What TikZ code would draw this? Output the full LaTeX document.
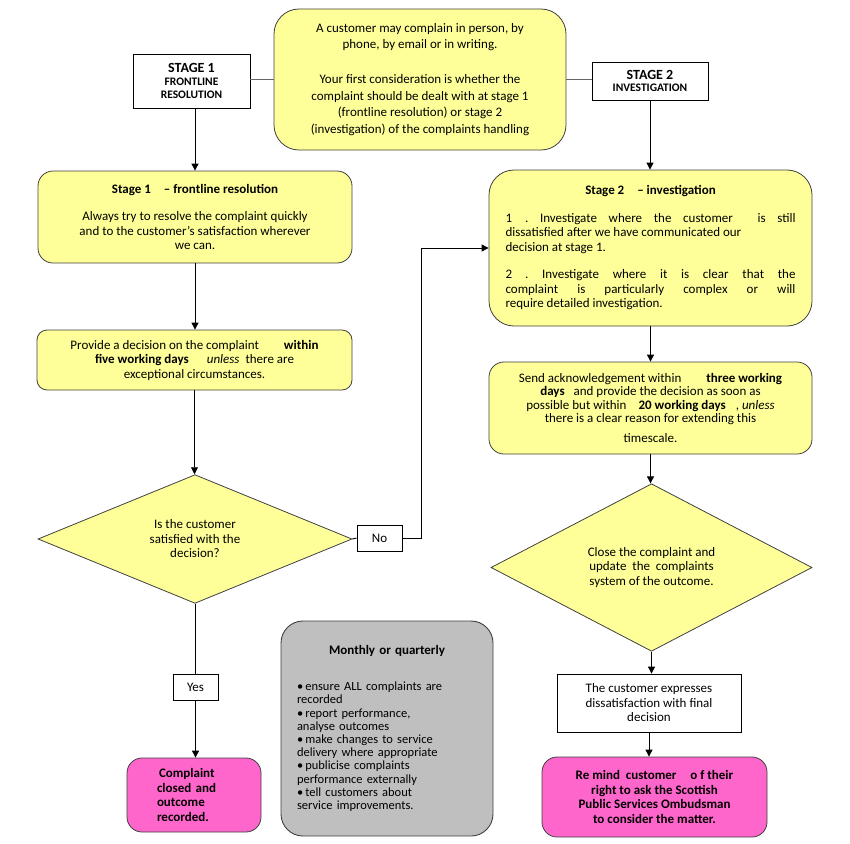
\documentclass[tikz,border=0pt]{standalone}
\usepackage{fontspec}
\setmainfont{Carlito}
\usepackage{tikz}
\usetikzlibrary{shapes.geometric,arrows.meta}

\definecolor{paleyellow}{HTML}{FFFF99}
\definecolor{hotpink}{HTML}{FF66CC}
\definecolor{boxgray}{HTML}{BFBFBF}
\definecolor{edgegray}{HTML}{404040}

\newcommand{\bodyfont}{\fontsize{13}{14.5}\selectfont}
\newcommand{\listfont}{\fontsize{12.5}{13.2}\selectfont}
\newcommand{\tagfont}{\fontsize{11.5}{12.7}\selectfont}

\tikzset{
    >={Triangle[length=7pt,width=7pt]},
    yellowbox/.style={draw=edgegray, fill=paleyellow, line width=0.8pt, align=center, font=\bodyfont, inner sep=0pt},
    pinkbox/.style={draw=edgegray, fill=hotpink, line width=0.8pt, font=\bodyfont\bfseries, inner sep=0pt, rounded corners=15pt},
    tagbox/.style={draw, fill=white, line width=0.8pt, align=center, inner sep=0pt, font=\bodyfont},
    question/.style={diamond, draw=edgegray, fill=paleyellow, line width=0.8pt, align=center, font=\bodyfont, inner sep=0pt}
}

\begin{document}
\begin{tikzpicture}[x=1pt,y=-1pt,line width=0.9pt]
            \useasboundingbox (0,0) rectangle (850,843);

            % Top row
            \node[yellowbox, rounded corners=25pt, minimum width=292pt, minimum height=141pt, font={\fontsize{13}{16.7}\selectfont}] (intro) at (420,79.5)
                {A customer may complain in person, by\\ phone, by email or in writing.\\[18pt]
                 Your first consideration is whether the\\ complaint should be dealt with at stage 1\\
                 (frontline resolution) or stage 2\\ (investigation) of the complaints handling};
            \node[tagbox, minimum width=117pt, minimum height=54pt, font={\bfseries\tagfont}] (stageone) at (191.5,81)
                {{\fontsize{14}{14}\selectfont STAGE 1}\\ FRONTLINE\\ RESOLUTION};
            \node[tagbox, minimum width=116pt, minimum height=38pt, font={\bfseries\tagfont}] (stagetwo) at (650,81)
                {{\fontsize{14}{14}\selectfont STAGE 2}\\ INVESTIGATION};

            % Stage 1 side
            \node[yellowbox, rounded corners=15pt, minimum width=314pt, minimum height=92pt] (stageonebox) at (195,217)
                {\textbf{Stage 1\quad -- frontline resolution}\\[13pt]
                 Always try to resolve the complaint quickly\\ and to the customer's satisfaction wherever\\ we can.};
            \node[yellowbox, rounded corners=10pt, minimum width=315pt, minimum height=60pt] (decide) at (194.5,360)
                {Provide a decision on the complaint\hspace{25pt}\textbf{within}\\
                 \textbf{five working days}\hspace{18pt}\textit{unless}\hspace{6pt}there are\\ exceptional circumstances.};
            \node[question, minimum width=314pt, minimum height=98pt] (satisfied) at (195,539)
                {Is the customer\\ satisfied with the\\ decision?};
            \node[tagbox, minimum width=45pt, minimum height=26pt] (no) at (379.5,538) {No};
            \node[tagbox, minimum width=45pt, minimum height=26pt] (yes) at (195.5,687) {Yes};
            \node[pinkbox, minimum width=134pt, minimum height=74pt, text width=74pt, align=left] (closed) at (194,795)
                {\hspace{2pt}Complaint\\ closed and\\ outcome\\ recorded.};

            % Stage 2 side
            \node[yellowbox, rounded corners=25pt, minimum width=323pt, minimum height=156pt, align=left] (stagetwobox) at (650.5,248)
                {\makebox[290pt]{\textbf{Stage 2\quad -- investigation}}\\[13pt]
                 \makebox[290pt][s]{1\quad.\ Investigate where the customer \quad is still}\\
                 dissatisfied after we have communicated our\\ decision at stage 1.\\[13pt]
                 \makebox[290pt][s]{2\quad.\ Investigate where it is clear that the}\\
                 \makebox[290pt][s]{complaint is particularly complex or will}\\
                 require detailed investigation.};
            \node[yellowbox, rounded corners=15pt, minimum width=323pt, minimum height=92pt, font={\fontsize{13}{13.4}\selectfont}] (acknowledge) at (650.5,408)
                {Send acknowledgement within\hspace{25pt}\textbf{three working}\\
                 \textbf{days}\hspace{6pt} and provide the decision as soon as\\
                 possible but within\hspace{12pt}\textbf{20\ working days}\hspace{10pt}, \textit{unless}\\
                 there is a clear reason for extending this\\[7pt] timescale.};
            \node[question, minimum width=321pt, minimum height=155pt] (closeit) at (651.5,567.5)
                {Close the complaint and\\ update\ \ the\ \ complaints\\ system of the outcome.};
            \node[tagbox, minimum width=184pt, minimum height=58pt] (express) at (649,703)
                {The customer expresses\\ dissatisfaction with final\\ decision};
            \node[pinkbox, minimum width=225pt, minimum height=80pt, align=center] (remind) at (654.5,797)
                {Re mind\ \ customer\hspace{14pt}o f their\\ right to ask the Scottish\\ Public Services Ombudsman\\ to consider the matter.};

            % Monthly tasks
            \node[draw=edgegray, fill=boxgray, rounded corners=22pt, minimum width=212pt, minimum height=215pt, inner sep=0pt,
                  text width=180pt, align=left, font=\listfont] (monthly) at (387,728.5)
                {\makebox[180pt]{\bodyfont\bfseries Monthly or quarterly}\\[23pt]
                 \textbullet\,ensure ALL complaints are\\ recorded\\
                 \textbullet\,report performance,\\ analyse outcomes\\
                 \textbullet\,make changes to service\\ delivery where appropriate\\
                 \textbullet\,publicise complaints\\ performance externally\\
                 \textbullet\,tell customers about\\ service improvements.};

            % Connectors
            \draw[gray!80!black, line width=1.2pt] (intro.west -| stageone.east) -- (intro.west);
            \draw[gray!80!black, line width=1.2pt] (intro.east) -- (intro.east -| stagetwo.west);
            \draw[->] (stageone.south -| stageonebox.north) -- (stageonebox.north);
            \draw[->] (stagetwo.south) -- (stagetwo.south |- stagetwobox.north);
            \draw[->] (stageonebox.south) -- (stageonebox.south |- decide.north);
            \draw[->] (decide.south) -- (decide.south |- satisfied.north);
            \draw (satisfied.east) -- (no.west);
            \draw[->] (no.east) -- ++(19,0) |- (stagetwobox.west);
            \draw (satisfied.south) -- (satisfied.south |- yes.north);
            \draw[->] (yes.south) -- (yes.south |- closed.north);
            \draw[->] (stagetwobox.south) -- (stagetwobox.south |- acknowledge.north);
            \draw[->] (acknowledge.south) -- (acknowledge.south |- closeit.north);
            \draw[->] (closeit.south) -- (closeit.south |- express.north);
            \draw[->] (express.south) -- (express.south |- remind.north);

        \end{tikzpicture}
\end{document}
